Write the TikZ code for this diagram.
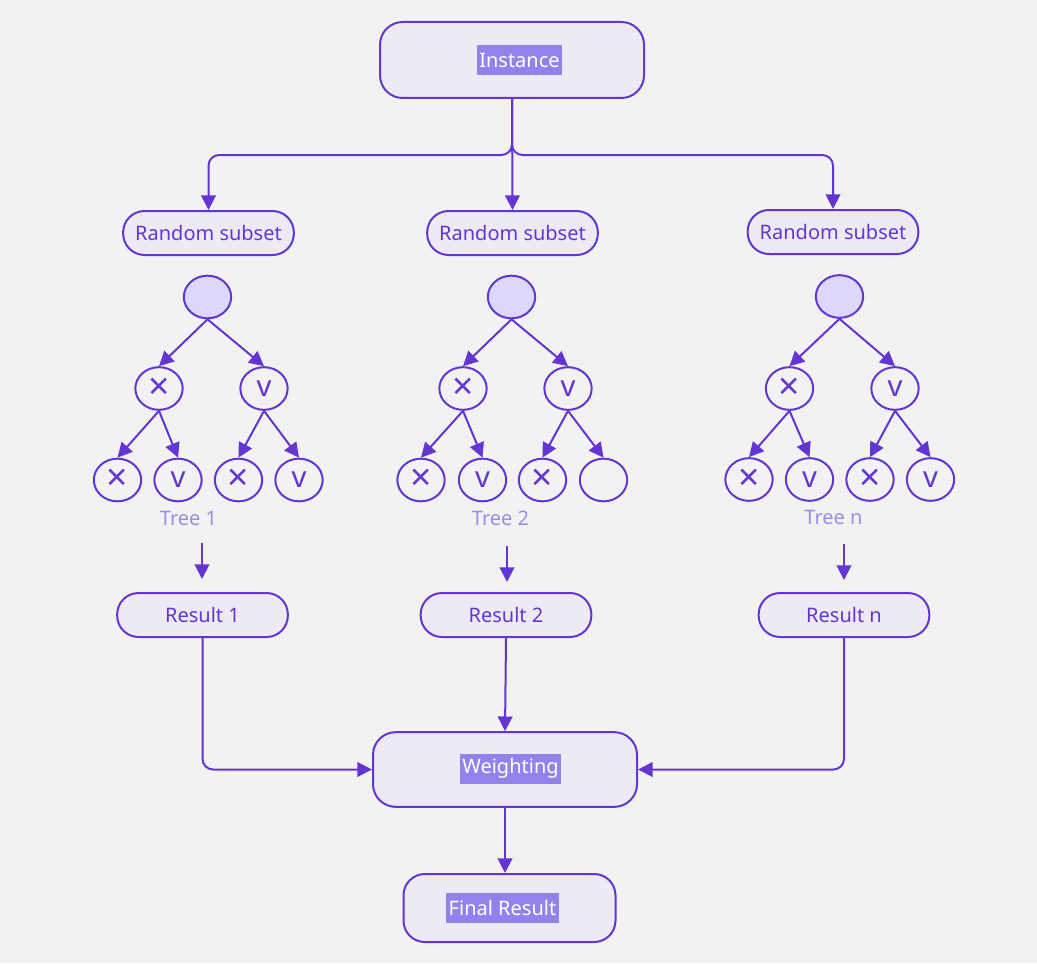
\documentclass[tikz,border=0pt]{standalone}
\usepackage{fontspec}
\setmainfont{Noto Sans}
\usetikzlibrary{arrows.meta,shapes.geometric}
\definecolor{bg}{HTML}{F2F2F2}
\definecolor{stroke}{HTML}{6336D3}
\definecolor{boxfill}{HTML}{EDEAF6}
\definecolor{hl}{HTML}{9482EC}
\definecolor{rootfill}{HTML}{DCD8FB}
\definecolor{treelbl}{HTML}{9B8EE6}
\begin{document}
\begin{tikzpicture}[x=0.75pt,y=-0.75pt,
  font=\fontsize{15}{18}\selectfont,
  bigbox/.style={draw=stroke,fill=boxfill,line width=1.5pt,rounded corners=17pt,minimum width=198pt,minimum height=57pt,inner sep=0pt},
  pill/.style={draw=stroke,fill=boxfill,line width=1.5pt,rounded corners=16pt,minimum width=128pt,minimum height=33pt,text=stroke,inner sep=0pt},
  hltext/.style={fill=hl,text=white,inner xsep=2pt,inner ysep=0pt,minimum height=22.5pt},
  tnode/.style={ellipse,draw=stroke,line width=1.5pt,minimum width=35.5pt,minimum height=32pt,inner sep=0pt,text=stroke},
  tx/.style={tnode,font=\fontsize{28}{28}\selectfont},
  tv/.style={tnode,font=\fontsize{22}{22}\selectfont},
  troot/.style={tnode,fill=rootfill},
  tlabel/.style={text=treelbl},
  conn/.style={draw=stroke,line width=1.5pt,-{Triangle[length=11pt,width=11pt]}},
  ]
\useasboundingbox[fill=bg] (0,0) rectangle (1037,963);

% top
\node[bigbox] (inst) at (512,60) {};
\node[hltext] (instl) at (519.5,60) {Instance};

\node[pill] (rs1) at (208.5,233) {Random subset};
\node[pill] (rs2) at (512.5,233) {Random subset};
\node[pill] (rs3) at (833,232) {Random subset};

\draw[conn,rounded corners=8pt] (inst.south) -- ++(0,56) -| (rs1.north);
\draw[conn,rounded corners=8pt] (inst.south) -- ++(0,56) -| (rs3.north);
\draw[conn] (inst.south) -- (rs2.north);

% tree 1
\node[troot] (t1r) at (207.5,297) {};
\node[tx] (t1a) at (159,388.5) {×};
\node[tv] (t1b) at (264,388.5) {v};
\node[tx] (t1c) at (117.5,480) {×};
\node[tv] (t1d) at (178,480) {v};
\node[tx] (t1e) at (238.5,480) {×};
\node[tv] (t1f) at (299,480) {v};
\draw[conn] (t1r.south) -- (t1a.north);
\draw[conn] (t1r.south) -- (t1b.north);
\draw[conn] (t1a.south) -- (t1c.north);
\draw[conn] (t1a.south) -- (t1d.north);
\draw[conn] (t1b.south) -- (t1e.north);
\draw[conn] (t1b.south) -- (t1f.north);
\node[tlabel] (t1l) at (188.5,518) {Tree 1};

% tree 2
\node[troot] (t2r) at (511.5,297) {};
\node[tx] (t2a) at (463,388.5) {×};
\node[tv] (t2b) at (568,388.5) {v};
\node[tx] (t2c) at (421,480) {×};
\node[tv] (t2d) at (482.5,480) {v};
\node[tx] (t2e) at (542.5,480) {×};
\node[tnode] (t2f) at (603.5,480) {};
\draw[conn] (t2r.south) -- (t2a.north);
\draw[conn] (t2r.south) -- (t2b.north);
\draw[conn] (t2a.south) -- (t2c.north);
\draw[conn] (t2a.south) -- (t2d.north);
\draw[conn] (t2b.south) -- (t2e.north);
\draw[conn] (t2b.south) -- (t2f.north);
\node[tlabel] (t2l) at (500.5,518) {Tree 2};

% tree n
\node[troot] (t3r) at (839.5,296.5) {};
\node[tx] (t3a) at (789.5,388.5) {×};
\node[tv] (t3b) at (895,388.5) {v};
\node[tx] (t3c) at (749,479.5) {×};
\node[tv] (t3d) at (809.5,479.5) {v};
\node[tx] (t3e) at (870,479.5) {×};
\node[tv] (t3f) at (930.5,479.5) {v};
\draw[conn] (t3r.south) -- (t3a.north);
\draw[conn] (t3r.south) -- (t3b.north);
\draw[conn] (t3a.south) -- (t3c.north);
\draw[conn] (t3a.south) -- (t3d.north);
\draw[conn] (t3b.south) -- (t3e.north);
\draw[conn] (t3b.south) -- (t3f.north);
\node[tlabel] (t3l) at (833.5,517) {Tree n};

% tree -> result arrows
\coordinate (a1s) at (202,543);  \coordinate (a1e) at (202,579);
\coordinate (a2s) at (507,546);  \coordinate (a2e) at (507,582);
\coordinate (a3s) at (844,544);  \coordinate (a3e) at (844,580);
\draw[conn] (a1s) -- (a1e);
\draw[conn] (a2s) -- (a2e);
\draw[conn] (a3s) -- (a3e);

% results
\node[pill] (r1) at (202.5,615) {Result 1};
\node[pill] (r2) at (506,615) {Result 2};
\node[pill] (r3) at (844,615) {Result n};

% weighting
\node[bigbox,minimum height=56pt] (w) at (505,769.5) {};
\node[hltext] (wl) at (510.5,768.5) {Weighting};

\draw[conn,rounded corners=8pt] (r1.south) |- (w.west);
\draw[conn,rounded corners=8pt] (r3.south) |- (w.east);
\draw[conn] (r2.south) -- (w.north);

% final
\node[bigbox,minimum width=159pt,minimum height=51pt,rounded corners=16pt] (f) at (509.5,908) {};
\node[hltext] (fl) at (502.5,907.5) {Final Result};
\draw[conn] (w.south) -- (w.south |- f.north);
\end{tikzpicture}
\end{document}
